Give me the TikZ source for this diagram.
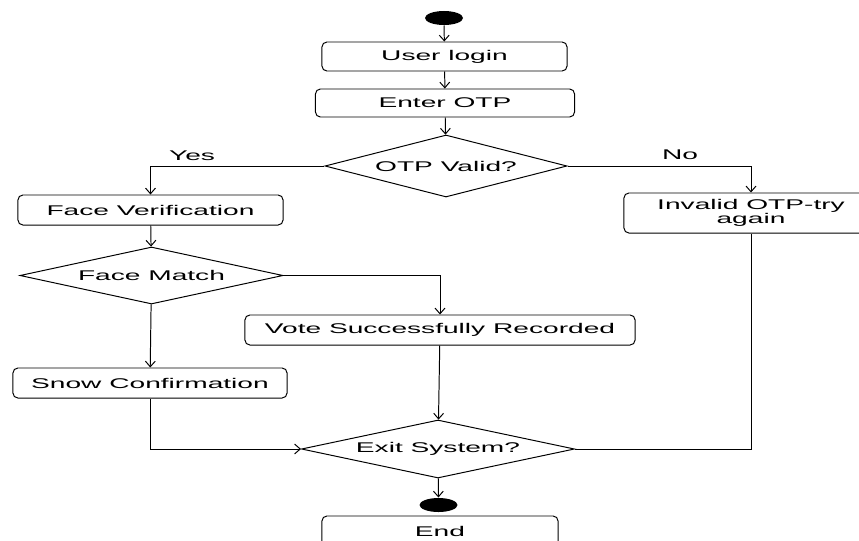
\documentclass[tikz,border=0pt]{standalone}
\usepackage{fontspec}
\setmainfont{Liberation Sans}[FakeStretch=2]
\usetikzlibrary{shapes.geometric,arrows.meta}
\begin{document}
\begin{tikzpicture}[x=0.025cm, y=0.025cm, >={Straight Barb[length=4pt,width=7pt]}, line width=0.7pt]
\tikzstyle{every node}+=[inner sep=0pt, font=\fontsize{10}{9}\selectfont]
\tikzstyle{stage}=[draw=black, rounded corners=3.5pt, minimum height=0.75cm]
\tikzstyle{test}=[draw=black, diamond, shape aspect=4]
\tikzstyle{dot}=[fill=black, ellipse, minimum width=0.95cm, minimum height=0.35cm]
\useasboundingbox (0,0) rectangle (859,-540);
\draw (444,-18) node [dot] (start) {};
\draw (444.5,-56.5) node [stage, minimum width=6.125cm, minimum height=0.725cm] (login) {User login};
\draw (445,-103) node [stage, minimum width=6.475cm, minimum height=0.7cm] (otp) {Enter OTP};
\draw (446,-166) node [test, minimum width=6.05cm, minimum height=1.55cm] (valid) {OTP Valid?};
\draw (150.5,-210) node [stage, minimum width=6.625cm] (face) {Face Verification};
\draw (151.5,-275.5) node [test, minimum width=6.575cm, minimum height=1.425cm] (match) {Face Match};
\draw (440,-330) node [stage, minimum width=9.75cm] (vote) {Vote Successfully Recorded};
\draw (150,-383) node [stage, minimum width=6.85cm] (snow) {Snow Confirmation};
\draw (751,-213) node [stage, minimum width=6.35cm, minimum height=1cm, align=center] (invalid) {Invalid OTP-try\\again};
\draw (438,-449) node [test, minimum width=6.825cm, minimum height=1.45cm] (exit) {Exit System?};
\draw (438.5,-505) node [dot] (stop) {};
\draw (440,-531) node [stage, minimum width=5.9cm] (end) {End};
\draw [black, ->] (start) -- (login);
\draw [black, ->] (login) -- (otp);
\draw [black, ->] (otp) -- (valid);
\draw [black, ->] (valid.west) -| (face.north);
\draw (192,-156) node {Yes};
\draw [black, ->] (valid.east) -| (invalid.north);
\draw (680,-155) node {No};
\draw [black, ->] (face) -- (match);
\draw [black, ->] (match.east) -| (vote.north);
\draw [black, ->] (match) -- (snow);
\draw [black, ->] (vote) -- (exit);
\draw [black, ->] (snow.south) |- (exit.west);
\draw [black] (invalid.south) |- (exit.east);
\draw [black, ->] (exit) -- (stop);
\end{tikzpicture}
\end{document}
